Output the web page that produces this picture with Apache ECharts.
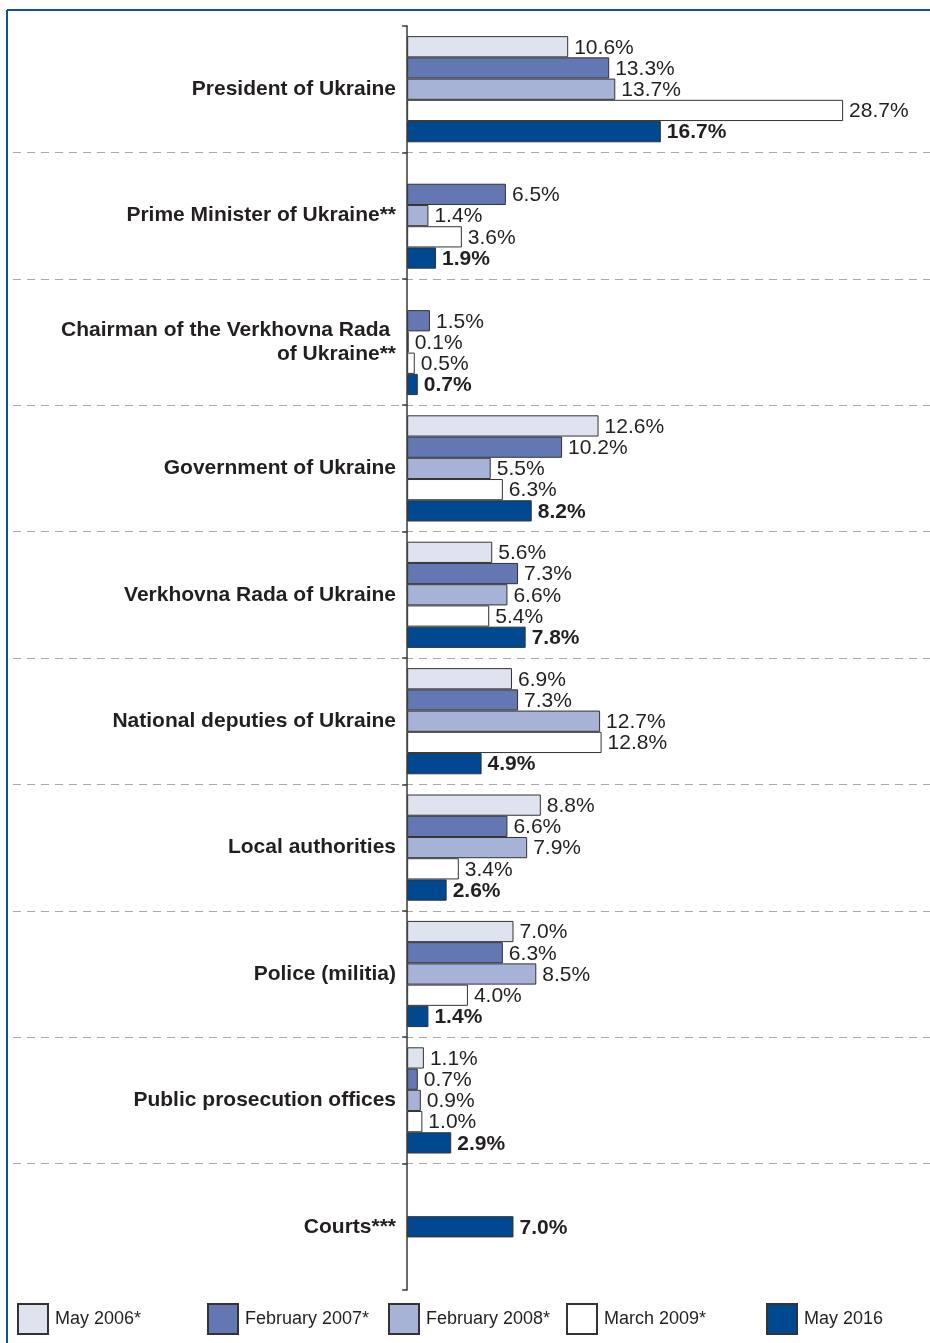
<!DOCTYPE html>
<html>
<head>
<meta charset="utf-8">
<script src="https://cdn.jsdelivr.net/npm/echarts@6/dist/echarts.min.js"></script>
<style>
html,body{margin:0;padding:0;background:#fff;}
#chart{width:930px;height:1343px;}
</style>
</head>
<body>
<div id="chart"></div>
<script>
const categories = ['President of Ukraine', 'Prime Minister of Ukraine**', 'Chairman of the Verkhovna Rada \nof Ukraine**', 'Government of Ukraine', 'Verkhovna Rada of Ukraine', 'National deputies of Ukraine', 'Local authorities', 'Police (militia)', 'Public prosecution offices', 'Courts***'];
const seriesNames = ['May 2006*', 'February 2007*', 'February 2008*', 'March 2009*', 'May 2016'];
const may2006 = [10.6, null, null, 12.6, 5.6, 6.9, 8.8, 7.0, 1.1, null];
const feb2007 = [13.3, 6.5, 1.5, 10.2, 7.3, 7.3, 6.6, 6.3, 0.7, null];
const feb2008 = [13.7, 1.4, 0.1, 5.5, 6.6, 12.7, 7.9, 8.5, 0.9, null];
const mar2009 = [28.7, 3.6, 0.5, 6.3, 5.4, 12.8, 3.4, 4.0, 1.0, null];
const may2016 = [16.7, 1.9, 0.7, 8.2, 7.8, 4.9, 2.6, 1.4, 2.9, null];
const courts2016 = [null, null, null, null, null, null, null, null, null, 7.0];

const colors = ['#dfe2ef', '#6378b3', '#a7b3d6', '#ffffff', '#004990'];
const FONT = '"Liberation Sans", Arial, Helvetica, sans-serif';
const TXT = '#231f20';
const legendLeft = [17, 207, 388, 566, 766];

const chart = echarts.init(document.getElementById('chart'), null, {renderer: 'canvas'});

function mkSeries(name, data, idx, yIdx, extra) {
  const bold = idx === 4;
  return Object.assign({
    type: 'bar',
    name: name,
    data: data,
    yAxisIndex: yIdx,
    itemStyle: {color: colors[idx], borderColor: '#333', borderWidth: 1},
    label: {
      show: true,
      position: 'right',
      distance: 6,
      offset: [0, 1],
      fontFamily: FONT,
      fontSize: 21,
      fontWeight: bold ? 'bold' : 'normal',
      color: TXT,
      formatter: p => p.value == null ? '' : Number(p.value).toFixed(1) + '%'
    },
    emphasis: {disabled: true},
    animation: false
  }, extra || {});
}

const allData = [may2006, feb2007, feb2008, mar2009, may2016];
const series = allData.map((d, i) => mkSeries(seriesNames[i], d, i, 0, i === 0 ? {barCategoryGap: '16%', barGap: '0%'} : {barGap: '0%'}));
series.push(mkSeries(seriesNames[4], courts2016, 4, 1, {barCategoryGap: '83.2%'}));

const option = {
  backgroundColor: '#fff',
  animation: false,
  grid: {left: 13, right: 0, top: 26, bottom: 53, containLabel: false, outerBoundsMode: 'none'},
  xAxis: {type: 'value', min: -25.95, max: 34.42, show: false, splitLine: {show: false}},
  yAxis: [{
    type: 'category',
    data: categories,
    inverse: true,
    axisLine: {show: true, onZero: true, lineStyle: {color: '#3a3a3a', width: 1.5}},
    axisTick: {show: true, length: 5, lineStyle: {color: '#3a3a3a', width: 1.5}},
    axisLabel: {
      margin: -383,
      fontFamily: FONT,
      fontSize: 21,
      fontWeight: 'bold',
      color: TXT,
      lineHeight: 24,
      align: 'right',
      padding: [4, 0, 0, 0]
    },
    splitLine: {show: true, showMinLine: false, showMaxLine: false, lineStyle: {color: '#aaaaaa', width: 1.2, type: [8, 6]}}
  }, {
    type: 'category',
    data: categories,
    inverse: true,
    show: false
  }],
  legend: seriesNames.map((n, i) => ({
    data: [n],
    left: legendLeft[i],
    top: 1303,
    padding: 0,
    icon: 'rect',
    itemWidth: 30,
    itemHeight: 30,
    selectedMode: false,
    textStyle: {fontFamily: FONT, fontSize: 18, color: TXT, padding: [0, 0, 0, 2]}
  })),
  graphic: [
    {type: 'line', shape: {x1: 7, y1: 10, x2: 930, y2: 10}, style: {stroke: '#10509f', lineWidth: 2}, silent: true},
    {type: 'line', shape: {x1: 7, y1: 10, x2: 7, y2: 1343}, style: {stroke: '#10509f', lineWidth: 2}, silent: true}
  ],
  series: series
};
chart.setOption(option);
</script>
</body>
</html>
